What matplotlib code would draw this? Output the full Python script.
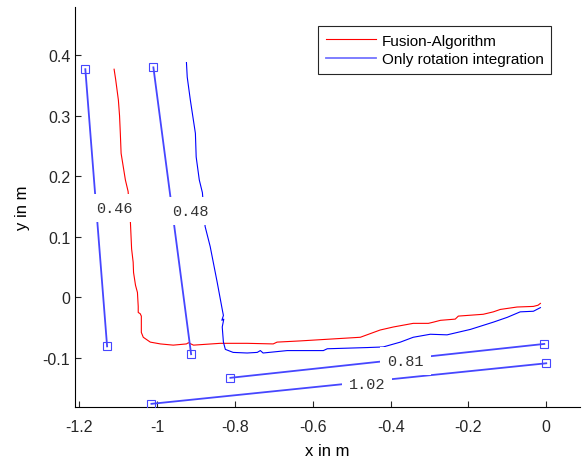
import matplotlib
matplotlib.use("Agg")
import matplotlib.pyplot as plt
import numpy as np

plt.rcParams["font.family"] = ["Liberation Sans", "DejaVu Sans"]
plt.rcParams["axes.unicode_minus"] = False

# Fusion-Algorithm trajectory (x, y in m)
fusion_x = [-1.111, -1.107, -1.100, -1.097, -1.095, -1.093, -1.082, -1.075, -1.069, -1.066,
            -1.062, -1.061, -1.056, -1.051, -1.049, -1.049, -1.044, -1.041, -1.041, -1.036,
            -1.018, -0.992, -0.959, -0.925, -0.920, -0.907, -0.838, -0.769, -0.702, -0.692,
            -0.632, -0.555, -0.478, -0.427, -0.393, -0.342, -0.303, -0.290, -0.272, -0.234,
            -0.226, -0.162, -0.136, -0.118, -0.075, -0.033, -0.021, -0.015]
fusion_y = [0.377, 0.360, 0.326, 0.300, 0.271, 0.238, 0.194, 0.175, 0.123, 0.080,
            0.058, 0.041, 0.020, 0.008, -0.015, -0.025, -0.027, -0.031, -0.058, -0.066,
            -0.074, -0.077, -0.079, -0.077, -0.075, -0.079, -0.076, -0.076, -0.077, -0.074,
            -0.072, -0.069, -0.066, -0.054, -0.049, -0.043, -0.043, -0.041, -0.038, -0.036,
            -0.031, -0.028, -0.024, -0.020, -0.016, -0.015, -0.013, -0.010]

# Only rotation integration trajectory
rot_x = [-0.925, -0.923, -0.915, -0.902, -0.900, -0.892, -0.884, -0.877, -0.864, -0.846,
         -0.833, -0.830, -0.834, -0.829, -0.833, -0.830, -0.825, -0.805, -0.769, -0.743,
         -0.735, -0.728, -0.666, -0.632, -0.573, -0.563, -0.460, -0.419, -0.375, -0.342,
         -0.298, -0.255, -0.195, -0.136, -0.100, -0.067, -0.033, -0.015]
rot_y = [0.388, 0.364, 0.326, 0.271, 0.232, 0.194, 0.173, 0.117, 0.084, 0.025,
         -0.020, -0.030, -0.038, -0.036, -0.049, -0.074, -0.086, -0.091, -0.092, -0.091,
         -0.088, -0.092, -0.088, -0.088, -0.088, -0.085, -0.083, -0.082, -0.074, -0.066,
         -0.061, -0.062, -0.053, -0.041, -0.033, -0.024, -0.023, -0.017]

# measurement lines: start / end points and distance labels
meas_x0 = [-1.185, -1.010, -0.812, -1.015]
meas_y0 = [0.377, 0.380, -0.133, -0.176]
meas_x1 = [-1.129, -0.913, -0.005, 0.000]
meas_y1 = [-0.081, -0.094, -0.077, -0.109]
meas_labels = ["0.46", "0.48", "0.81", "1.02"]

xticks = [-1.2, -1.0, -0.8, -0.6, -0.4, -0.2, 0.0]
yticks = [-0.1, 0.0, 0.1, 0.2, 0.3, 0.4]

meas_color = "#4646ff"

fig = plt.figure(figsize=(5.83, 4.64), dpi=100)
ax = fig.add_axes([0.129, 0.121, 0.866, 0.862])

ax.plot(fusion_x, fusion_y, color="red", lw=0.8, label="Fusion-Algorithm")
ax.plot(rot_x, rot_y, color="blue", lw=0.8)

for i in range(len(meas_labels)):
    ax.plot([meas_x0[i], meas_x1[i]], [meas_y0[i], meas_y1[i]], color=meas_color, lw=1.3,
            marker="s", markersize=6, markerfacecolor="none", markeredgewidth=0.8, zorder=3)
    mx = (meas_x0[i] + meas_x1[i]) / 2
    my = (meas_y0[i] + meas_y1[i]) / 2
    ax.text(mx, my, meas_labels[i], family="Liberation Mono", fontsize=11, color="#333333",
            ha="left", va="center", zorder=4,
            bbox=dict(boxstyle="square,pad=0.45", fc="white", ec="none"))

# legend handle for second entry uses the measurement line style
ax.plot([], [], color=meas_color, lw=1.3, alpha=0.75, label="Only rotation integration")

ax.set_xlim(-1.211, 0.087)
ax.set_ylim(-0.181, 0.48)
ax.set_xticks(xticks, ["%g" % t for t in xticks])
ax.set_yticks(yticks, ["%g" % t for t in yticks])
ax.tick_params(direction="in", labelsize=11.5, length=4, colors="#262626")
ax.tick_params(axis="x", pad=9)
ax.spines["top"].set_visible(False)
ax.spines["right"].set_visible(False)
ax.set_xlabel("x in m", fontsize=12, labelpad=6)
ax.set_ylabel("y in m", fontsize=12, labelpad=9)

leg = ax.legend(loc="upper right", bbox_to_anchor=(0.943, 0.952), fontsize=11, fancybox=False,
                edgecolor="#262626", framealpha=1, handlelength=3.3, borderpad=0.5,
                labelspacing=0.3, handletextpad=0.35, borderaxespad=0)
leg.get_frame().set_linewidth(0.8)

fig.savefig("out.png", dpi=100)
